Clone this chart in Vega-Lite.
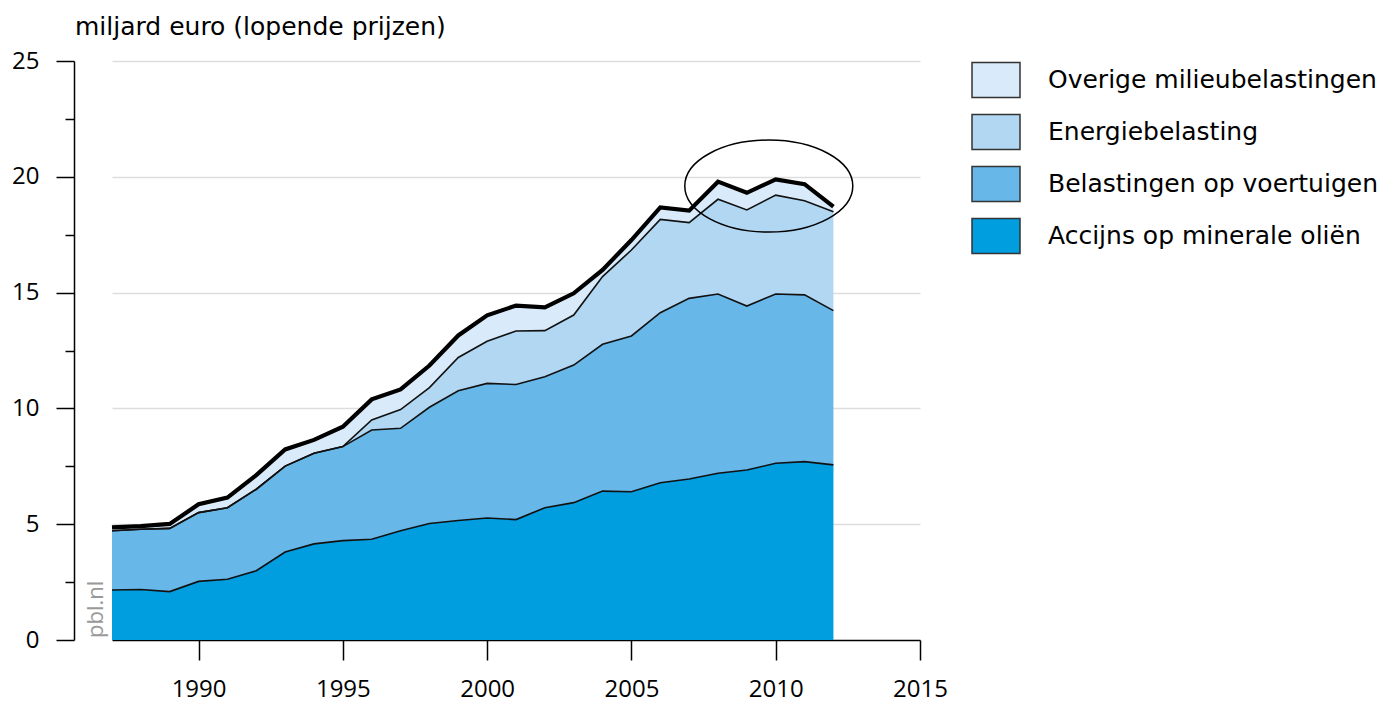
{
  "$schema": "https://vega.github.io/schema/vega-lite/v6.json",
  "width": 808,
  "height": 579,
  "autosize": {"type": "none"},
  "padding": {"left": 112, "top": 61, "right": 460, "bottom": 63},
  "background": "white",
  "config": {"view": {"stroke": null}, "font": "Open Sans"},
  "title": {"text": "miljard euro (lopende prijzen)", "anchor": "start", "frame": "group", "dx": -37, "offset": -11, "fontSize": 25, "fontWeight": "normal", "color": "#000", "baseline": "alphabetic", "font": "DejaVu Sans"},
  "datasets": {
    "tax": [
      {"year": 1987, "Accijns op minerale oliën": 2.16, "Belastingen op voertuigen": 2.56, "Energiebelasting": 0, "Overige milieubelastingen": 0.14},
      {"year": 1988, "Accijns op minerale oliën": 2.18, "Belastingen op voertuigen": 2.60, "Energiebelasting": 0, "Overige milieubelastingen": 0.14},
      {"year": 1989, "Accijns op minerale oliën": 2.09, "Belastingen op voertuigen": 2.73, "Energiebelasting": 0, "Overige milieubelastingen": 0.19},
      {"year": 1990, "Accijns op minerale oliën": 2.53, "Belastingen op voertuigen": 2.97, "Energiebelasting": 0, "Overige milieubelastingen": 0.36},
      {"year": 1991, "Accijns op minerale oliën": 2.62, "Belastingen op voertuigen": 3.09, "Energiebelasting": 0, "Overige milieubelastingen": 0.44},
      {"year": 1992, "Accijns op minerale oliën": 2.99, "Belastingen op voertuigen": 3.52, "Energiebelasting": 0, "Overige milieubelastingen": 0.61},
      {"year": 1993, "Accijns op minerale oliën": 3.80, "Belastingen op voertuigen": 3.71, "Energiebelasting": 0, "Overige milieubelastingen": 0.72},
      {"year": 1994, "Accijns op minerale oliën": 4.15, "Belastingen op voertuigen": 3.91, "Energiebelasting": 0, "Overige milieubelastingen": 0.58},
      {"year": 1995, "Accijns op minerale oliën": 4.29, "Belastingen op voertuigen": 4.06, "Energiebelasting": 0, "Overige milieubelastingen": 0.86},
      {"year": 1996, "Accijns op minerale oliën": 4.35, "Belastingen op voertuigen": 4.72, "Energiebelasting": 0.43, "Overige milieubelastingen": 0.89},
      {"year": 1997, "Accijns op minerale oliën": 4.72, "Belastingen op voertuigen": 4.42, "Energiebelasting": 0.81, "Overige milieubelastingen": 0.87},
      {"year": 1998, "Accijns op minerale oliën": 5.03, "Belastingen op voertuigen": 5.02, "Energiebelasting": 0.85, "Overige milieubelastingen": 0.95},
      {"year": 1999, "Accijns op minerale oliën": 5.16, "Belastingen op voertuigen": 5.60, "Energiebelasting": 1.44, "Overige milieubelastingen": 0.95},
      {"year": 2000, "Accijns op minerale oliën": 5.27, "Belastingen op voertuigen": 5.81, "Energiebelasting": 1.82, "Overige milieubelastingen": 1.12},
      {"year": 2001, "Accijns op minerale oliën": 5.20, "Belastingen op voertuigen": 5.83, "Energiebelasting": 2.31, "Overige milieubelastingen": 1.10},
      {"year": 2002, "Accijns op minerale oliën": 5.71, "Belastingen op voertuigen": 5.66, "Energiebelasting": 1.99, "Overige milieubelastingen": 1.00},
      {"year": 2003, "Accijns op minerale oliën": 5.93, "Belastingen op voertuigen": 5.94, "Energiebelasting": 2.16, "Overige milieubelastingen": 0.94},
      {"year": 2004, "Accijns op minerale oliën": 6.43, "Belastingen op voertuigen": 6.34, "Energiebelasting": 2.92, "Overige milieubelastingen": 0.29},
      {"year": 2005, "Accijns op minerale oliën": 6.40, "Belastingen op voertuigen": 6.73, "Energiebelasting": 3.71, "Overige milieubelastingen": 0.43},
      {"year": 2006, "Accijns op minerale oliën": 6.79, "Belastingen op voertuigen": 7.34, "Energiebelasting": 4.03, "Overige milieubelastingen": 0.52},
      {"year": 2007, "Accijns op minerale oliën": 6.95, "Belastingen op voertuigen": 7.80, "Energiebelasting": 3.27, "Overige milieubelastingen": 0.52},
      {"year": 2008, "Accijns op minerale oliën": 7.20, "Belastingen op voertuigen": 7.74, "Energiebelasting": 4.09, "Overige milieubelastingen": 0.76},
      {"year": 2009, "Accijns op minerale oliën": 7.34, "Belastingen op voertuigen": 7.08, "Energiebelasting": 4.15, "Overige milieubelastingen": 0.74},
      {"year": 2010, "Accijns op minerale oliën": 7.63, "Belastingen op voertuigen": 7.31, "Energiebelasting": 4.27, "Overige milieubelastingen": 0.68},
      {"year": 2011, "Accijns op minerale oliën": 7.70, "Belastingen op voertuigen": 7.20, "Energiebelasting": 4.07, "Overige milieubelastingen": 0.71},
      {"year": 2012, "Accijns op minerale oliën": 7.56, "Belastingen op voertuigen": 6.66, "Energiebelasting": 4.27, "Overige milieubelastingen": 0.22}
    ],
    "highlight": [
      {"year": 2009.76, "value": 19.6}
    ],
    "credit": [
      {"year": 1987, "value": 0, "label": "pbl.nl"}
    ]
  },
  "layer": [
    {
      "data": {"name": "tax"},
      "transform": [
        {"fold": ["Accijns op minerale oliën", "Belastingen op voertuigen", "Energiebelasting", "Overige milieubelastingen"], "as": ["series", "value"]},
        {"stack": "value", "groupby": ["year"], "sort": [{"field": "series", "order": "ascending"}], "as": ["v0", "v1"]}
      ],
      "layer": [
        {
          "mark": {"type": "area", "opacity": 1},
          "encoding": {
            "x": {
              "field": "year", "type": "quantitative", "title": null,
              "scale": {"domain": [1987, 2015], "nice": false, "zero": false},
              "axis": {
                "values": [1990, 1995, 2000, 2005, 2010, 2015], "format": "d",
                "grid": false, "tickSize": 20, "tickWidth": 1.5, "tickColor": "#000",
                "domainColor": "#000", "domainWidth": 1.5,
                "labelFontSize": 24, "labelColor": "#000", "labelPadding": 17,
                "labelFlush": false, "labelFont": "Open Sans"
              }
            },
            "y": {
              "field": "v1", "type": "quantitative", "title": null,
              "scale": {"domain": [0, 25], "nice": false},
              "axis": {
                "values": [0, 2.5, 5, 7.5, 10, 12.5, 15, 17.5, 20, 22.5, 25],
                "labelExpr": "datum.value % 5 === 0 ? datum.label : ''",
                "offset": 38,
                "tickSize": {"condition": {"test": "datum.value % 5 !== 0", "value": 9}, "value": 18},
                "tickWidth": 1.5, "tickColor": "#000",
                "grid": true,
                "gridOpacity": {"condition": {"test": "datum.value % 5 !== 0 || datum.value === 0", "value": 0}, "value": 1},
                "gridColor": "#dddddd", "gridWidth": 1.5,
                "domainColor": "#000", "domainWidth": 1.5,
                "labelFontSize": 24, "labelColor": "#000", "labelPadding": 17,
                "labelFont": "Open Sans"
              }
            },
            "y2": {"field": "v0"},
            "color": {
              "field": "series", "type": "nominal",
              "scale": {
                "domain": ["Overige milieubelastingen", "Energiebelasting", "Belastingen op voertuigen", "Accijns op minerale oliën"],
                "range": ["#d9ebfa", "#b2d7f3", "#68b7e9", "#009ddf"]
              },
              "legend": {
                "orient": "none", "legendX": 859, "legendY": -6, "title": null,
                "symbolType": "M-1,-0.73H1V0.73H-1Z", "symbolSize": 2304,
                "symbolStrokeColor": "#333", "symbolStrokeWidth": 1.5, "symbolOpacity": 1,
                "labelFontSize": 25, "labelOffset": 27, "rowPadding": 6, "labelLimit": 500,
                "labelColor": "#000", "labelFont": "DejaVu Sans", "padding": 0
              }
            }
          }
        },
        {
          "transform": [{"filter": "datum.series !== 'Overige milieubelastingen'"}],
          "mark": {"type": "line", "color": "#111", "strokeWidth": 1.6},
          "encoding": {
            "x": {"field": "year", "type": "quantitative", "title": null},
            "y": {"field": "v1", "type": "quantitative", "title": null},
            "detail": {"field": "series"}
          }
        },
        {
          "transform": [{"filter": "datum.series === 'Overige milieubelastingen'"}],
          "mark": {"type": "line", "color": "#000", "strokeWidth": 4.2},
          "encoding": {
            "x": {"field": "year", "type": "quantitative", "title": null},
            "y": {"field": "v1", "type": "quantitative", "title": null}
          }
        }
      ]
    },
    {
      "data": {"name": "highlight"},
      "mark": {
        "type": "point",
        "shape": "M-1,0C-1,-0.303,-0.552,-0.548,0,-0.548C0.552,-0.548,1,-0.303,1,0C1,0.303,0.552,0.548,0,0.548C-0.552,0.548,-1,0.303,-1,0Z",
        "size": 28224, "filled": false, "stroke": "#000", "strokeWidth": 1.5, "opacity": 1
      },
      "encoding": {
        "x": {"field": "year", "type": "quantitative", "title": null},
        "y": {"field": "value", "type": "quantitative", "title": null}
      }
    },
    {
      "data": {"name": "credit"},
      "mark": {"type": "text", "angle": 270, "align": "left", "baseline": "alphabetic", "dx": 2, "dy": -9, "fontSize": 22, "color": "#999999", "font": "Open Sans", "clip": false},
      "encoding": {
        "x": {"field": "year", "type": "quantitative", "title": null},
        "y": {"field": "value", "type": "quantitative", "title": null},
        "text": {"field": "label"}
      }
    }
  ]
}
